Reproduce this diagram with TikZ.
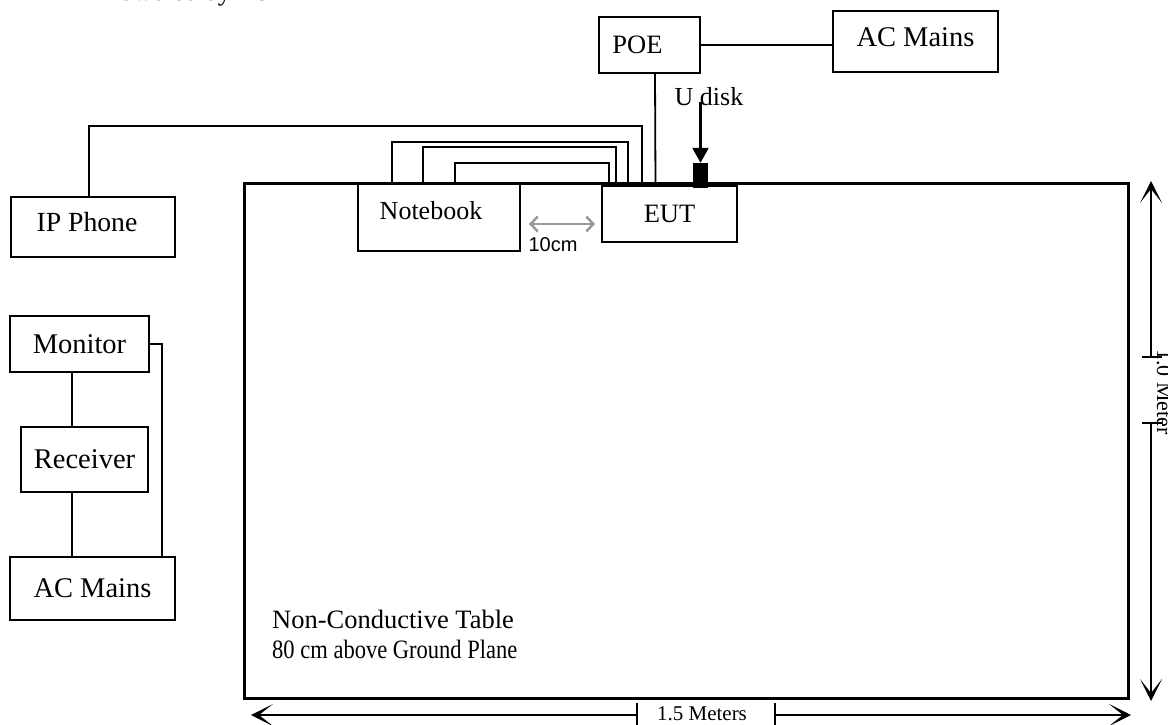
\documentclass[tikz,border=0pt]{standalone}
\usepackage{fontspec}
\setmainfont{Liberation Serif}
\newfontfamily\arialfont{Liberation Sans}
\usetikzlibrary{arrows.meta}
\newcommand\bxtxt[3]{\hspace*{#1}#3\rule[#2]{0pt}{0pt}}
\begin{document}
\begin{tikzpicture}[x=1pt,y=-1pt,
  box/.style={draw,line width=1.8pt,inner sep=0pt,font=\fontsize{26.5}{30}\selectfont},
  bigbox/.style={box,font=\fontsize{28.5}{32}\selectfont},
  txt/.style={inner sep=0pt,font=\fontsize{26.5}{30}\selectfont},
  cable/.style={line width=1.8pt},
  dimline/.style={line width=1.3pt},
  dimtip/.style={-{Stealth[length=22pt,width=22pt,inset=14pt]}},
  ticks/.style={line width=1.3pt}]
\useasboundingbox (0,0) rectangle (1168,725);

% caption cut at top
\node[txt,anchor=base west] (cap) at (105,1) {Powered by POE};

% table
\node[draw,line width=3pt,inner sep=0pt,minimum width=884,minimum height=515] (table) at (686,440.5) {};
\node[txt,anchor=base west] (t1) at (272,628) {Non-Conductive Table};
\node[txt,anchor=base west] (t2) at (272,658) {\scalebox{0.85}[1]{80 cm above Ground Plane}};

% boxes
\node[box,minimum width=164,minimum height=60,font=\fontsize{27.7}{31}\selectfont] (ip) at (93,227) {\bxtxt{-12pt}{-10pt}{IP Phone}};
\node[bigbox,minimum width=139,minimum height=56] (mon) at (79.5,344) {Monitor};
\node[bigbox,minimum width=127,minimum height=65] (rec) at (84.5,459.5) {Receiver};
\node[bigbox,minimum width=165,minimum height=63] (acl) at (92.5,588.5) {AC Mains};
\node[box,minimum width=162,minimum height=67,font=\fontsize{26}{30}\selectfont] (nb) at (439,217.5) {\bxtxt{-16pt}{-14pt}{Notebook}};
\node[box,minimum width=135,minimum height=56] (eut) at (669.5,214) {EUT};
\node[box,minimum width=101,minimum height=56] (poe) at (649.5,45) {\bxtxt{-24pt}{0pt}{POE}};
\node[bigbox,minimum width=165,minimum height=61] (acr) at (915.5,41.5) {\bxtxt{0pt}{-8pt}{AC Mains}};
\node[fill=black,inner sep=0pt,minimum width=15,minimum height=25] (usb) at (700.5,175.5) {};

% U disk
\node[txt,font=\fontsize{26}{30}\selectfont] (ud) at (709,97) {U disk};
\coordinate (udstart) at (700.5,102);
\draw[line width=2.5pt,-{Triangle[length=15pt,width=16pt]}] (udstart) -- (usb.north);

% cables
\draw[cable] ([xshift=-4pt]ip.north) -- ++(0,-70) -| ([xshift=-27.5pt]eut.north);
\draw[cable] ([xshift=-47pt]nb.north) -- ++(0,-41) -| ([xshift=-41.5pt]eut.north);
\draw[cable] ([xshift=-16pt]nb.north) -- ++(0,-36) -| ([xshift=-53.5pt]eut.north);
\draw[cable] ([xshift=16pt]nb.north) -- ++(0,-20) -| ([xshift=-60.5pt]eut.north);
\draw[cable] ([xshift=5.5pt]poe.south) -- ([xshift=-14pt]eut.north);
\draw[cable] (poe.east) -- (poe.east -| acr.west);

\draw[cable] ([xshift=-7.5pt]mon.south) -- ([xshift=-7.5pt]mon.south |- rec.north);
\draw[cable] ([xshift=-12.5pt]rec.south) -- ([xshift=-12.5pt]rec.south |- acl.north);
\draw[cable] (mon.east) -| ([xshift=69.5pt]acl.north);

% 10cm
\coordinate (g1) at (529,224);
\coordinate (g2) at (595,224);
\draw[line width=2.5pt,color=black!40,{Straight Barb[length=7pt,width=15pt]}-{Straight Barb[length=7pt,width=15pt]}] (g1) -- (g2);
\node[inner sep=0pt,font=\arialfont\fontsize{20}{24}\selectfont] (tencm) at (553,245) {10cm};

% horizontal dimension
\coordinate (hl) at (251,715);
\coordinate (hr) at (1131,715);
\coordinate (hm1) at (637,715);
\coordinate (hm2) at (775,715);
\draw[dimline,dimtip] (hm1) -- (hl);
\draw[dimline,dimtip] (hm2) -- (hr);
\draw[ticks] (637,703) -- (637,727);
\draw[ticks] (775,703) -- (775,727);
\node[inner sep=0pt,font=\fontsize{21}{24}\selectfont] (hdim) at (702,714) {1.5 Meters};

% vertical dimension
\coordinate (vt) at (1151,181);
\coordinate (vb) at (1151,701);
\coordinate (vm1) at (1151,357);
\coordinate (vm2) at (1151,423);
\draw[dimline,dimtip] (vm1) -- (vt);
\draw[dimline,dimtip] (vm2) -- (vb);
\draw[ticks] (1142,357) -- (1162,357);
\draw[ticks] (1142,423) -- (1162,423);
\node[inner sep=0pt,anchor=base,rotate=-90,font=\fontsize{22}{24}\selectfont] (vdim) at (1157,392) {1.0 Meter};
\end{tikzpicture}
\end{document}
